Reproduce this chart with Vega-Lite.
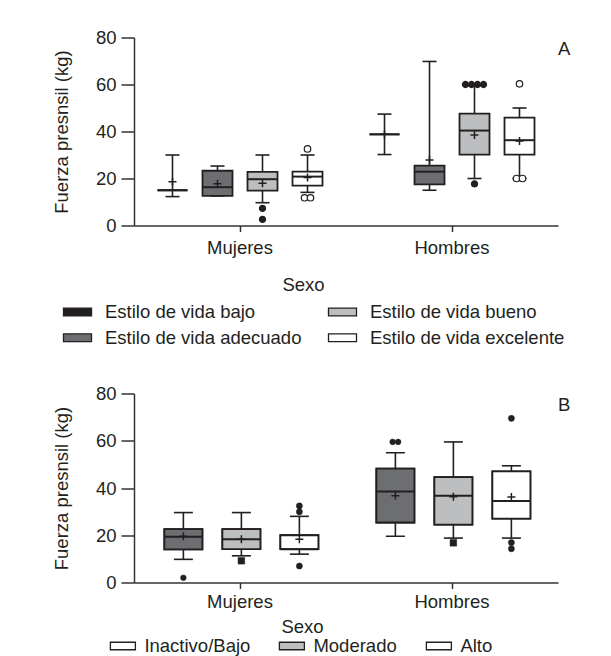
{
  "$schema": "https://vega.github.io/schema/vega-lite/v6.json",
  "padding": {"left": 52, "top": 28.5, "right": 0, "bottom": 0},
  "spacing": 36,
  "background": "#ffffff",
  "config": {
    "font": "Liberation Sans",
    "view": {"stroke": null},
    "axis": {
      "labelFont": "Liberation Sans", "titleFont": "Liberation Sans",
      "labelFontSize": 18.5, "titleFontSize": 18.5, "titleFontWeight": "normal",
      "labelColor": "#231f20", "titleColor": "#231f20",
      "domainColor": "#333333", "tickColor": "#333333", "domainWidth": 1.5, "tickWidth": 1.5,
      "grid": false
    },
    "legend": {
      "labelFont": "Liberation Sans", "labelFontSize": 18.5, "labelColor": "#231f20", "labelLimit": 400,
      "padding": 0, "symbolStrokeColor": "#231f20", "symbolStrokeWidth": 1.3
    }
  },
  "datasets": {
    "cajasA": [
      {"sexo": "Mujeres", "grupo": "Estilo de vida bajo", "min": 12.3, "q1": 15, "mediana": 15, "q3": 15, "max": 30, "media": 18.6},
      {"sexo": "Mujeres", "grupo": "Estilo de vida adecuado", "min": 12.6, "q1": 12.6, "mediana": 16.3, "q3": 23.3, "max": 25.3, "media": 17.8},
      {"sexo": "Mujeres", "grupo": "Estilo de vida bueno", "min": 9.7, "q1": 14.8, "mediana": 19.7, "q3": 22.8, "max": 30, "media": 18},
      {"sexo": "Mujeres", "grupo": "Estilo de vida excelente", "min": 14.1, "q1": 17, "mediana": 20.8, "q3": 22.9, "max": 30, "media": 20.4},
      {"sexo": "Hombres", "grupo": "Estilo de vida bajo", "min": 30.2, "q1": 38.8, "mediana": 38.8, "q3": 38.8, "max": 47.4, "media": 38.8},
      {"sexo": "Hombres", "grupo": "Estilo de vida adecuado", "min": 15, "q1": 17.5, "mediana": 22.9, "q3": 25.5, "max": 69.8, "media": 27.9},
      {"sexo": "Hombres", "grupo": "Estilo de vida bueno", "min": 20, "q1": 30.2, "mediana": 40.4, "q3": 47.6, "max": 60, "media": 38.5},
      {"sexo": "Hombres", "grupo": "Estilo de vida excelente", "min": 20, "q1": 30.2, "mediana": 36.3, "q3": 45.9, "max": 50, "media": 36}
    ],
    "atipicosA": [
      {"sexo": "Mujeres", "categoria": "Estilo de vida bueno", "fuerza": 7.3},
      {"sexo": "Mujeres", "categoria": "Estilo de vida bueno", "fuerza": 2.6},
      {"sexo": "Mujeres", "categoria": "Estilo de vida excelente", "fuerza": 32.6},
      {"sexo": "Mujeres", "categoria": "Estilo de vida excelente", "fuerza": 11.8, "caso": "excelente-1"},
      {"sexo": "Mujeres", "categoria": "Estilo de vida excelente", "fuerza": 11.8, "caso": "excelente-2"},
      {"sexo": "Hombres", "categoria": "Estilo de vida bueno", "fuerza": 60, "caso": "bueno-1"},
      {"sexo": "Hombres", "categoria": "Estilo de vida bueno", "fuerza": 60, "caso": "bueno-2"},
      {"sexo": "Hombres", "categoria": "Estilo de vida bueno", "fuerza": 60, "caso": "bueno-3"},
      {"sexo": "Hombres", "categoria": "Estilo de vida bueno", "fuerza": 60, "caso": "bueno-4"},
      {"sexo": "Hombres", "categoria": "Estilo de vida bueno", "fuerza": 17.7},
      {"sexo": "Hombres", "categoria": "Estilo de vida excelente", "fuerza": 60.3},
      {"sexo": "Hombres", "categoria": "Estilo de vida excelente", "fuerza": 20, "caso": "excelente-1"},
      {"sexo": "Hombres", "categoria": "Estilo de vida excelente", "fuerza": 20, "caso": "excelente-2"}
    ],
    "cajasB": [
      {"sexo": "Mujeres", "grupo": "Inactivo/Bajo", "min": 9.8, "q1": 14, "mediana": 19.4, "q3": 22.6, "max": 29.6, "media": 19.6},
      {"sexo": "Mujeres", "grupo": "Moderado", "min": 11.3, "q1": 14.1, "mediana": 18.3, "q3": 22.6, "max": 29.6, "media": 18.3},
      {"sexo": "Mujeres", "grupo": "Alto", "min": 12, "q1": 14.1, "mediana": 14.1, "q3": 20, "max": 28, "media": 18.3},
      {"sexo": "Hombres", "grupo": "Inactivo/Bajo", "min": 19.6, "q1": 25.4, "mediana": 38.5, "q3": 48.2, "max": 54.9, "media": 36.7},
      {"sexo": "Hombres", "grupo": "Moderado", "min": 18.8, "q1": 24.5, "mediana": 36.7, "q3": 44.6, "max": 59.5, "media": 36.3},
      {"sexo": "Hombres", "grupo": "Alto", "min": 18.8, "q1": 27, "mediana": 34.5, "q3": 47, "max": 49.4, "media": 36.2}
    ],
    "atipicosB": [
      {"sexo": "Mujeres", "categoria": "Inactivo/Bajo", "fuerza": 2},
      {"sexo": "Mujeres", "categoria": "Moderado", "fuerza": 9.2},
      {"sexo": "Mujeres", "categoria": "Alto", "fuerza": 32.4},
      {"sexo": "Mujeres", "categoria": "Alto", "fuerza": 29.9},
      {"sexo": "Mujeres", "categoria": "Alto", "fuerza": 7},
      {"sexo": "Hombres", "categoria": "Inactivo/Bajo", "fuerza": 59.5, "caso": "inactivo-1"},
      {"sexo": "Hombres", "categoria": "Inactivo/Bajo", "fuerza": 59.5, "caso": "inactivo-2"},
      {"sexo": "Hombres", "categoria": "Moderado", "fuerza": 16.8},
      {"sexo": "Hombres", "categoria": "Alto", "fuerza": 69.5},
      {"sexo": "Hombres", "categoria": "Alto", "fuerza": 16.9},
      {"sexo": "Hombres", "categoria": "Alto", "fuerza": 14.3}
    ],
    "etiquetaA": [{"panel": "A"}],
    "etiquetaB": [{"panel": "B"}]
  },
  "resolve": {
    "scale": {"x": "independent", "y": "independent", "xOffset": "independent", "fill": "independent", "color": "independent", "shape": "independent", "size": "independent"},
    "axis": {"x": "independent", "y": "independent"},
    "legend": {"fill": "independent", "color": "independent"}
  },
  "vconcat": [
    {
      "width": 424,
      "height": 188,
      "encoding": {
        "x": {"field": "sexo", "type": "nominal", "title": "Sexo",
          "scale": {"domain": ["Mujeres", "Hombres"], "paddingInner": 0, "paddingOuter": 0},
          "axis": {"labelAngle": 0, "tickSize": 6, "labelPadding": 6.5, "titlePadding": 19.3, "titleX": 169}}
      },
      "layer": [
        {
          "data": {"name": "cajasA"},
          "mark": {"type": "rule", "stroke": "#231f20", "strokeWidth": 1.6},
          "encoding": {
            "xOffset": {"field": "grupo", "type": "nominal", "scale": {"paddingInner": 0, "paddingOuter": 0.333, "domain": ["p0","p1","p2","p3","p4","a0","a1","a2","a3","a4","a5","a6","Estilo de vida bajo","a8","a9","a10","a11","a12","a13","a14","a15","a16","a17","a18","a19","a20","a21","Estilo de vida adecuado","a23","a24","a25","a26","a27","a28","a29","a30","a31","a32","a33","bueno-1","a35","bueno-2","Estilo de vida bueno","bueno-3","a39","bueno-4","a41","a42","a43","a44","a45","a46","a47","a48","a49","a50","excelente-1","Estilo de vida excelente","excelente-2","a54","a55","a56","a57","a58","a59","p5","p6","p7","p8","p9"]}},
            "y": {"field": "min", "type": "quantitative", "title": "Fuerza presnsil (kg)",
              "scale": {"domain": [0, 80], "nice": false},
              "axis": {"values": [0, 20, 40, 60, 80], "tickSize": 13, "labelPadding": 5, "titlePadding": 24}},
            "y2": {"field": "max"}
          }
        },
        {
          "data": {"name": "cajasA"},
          "mark": {"type": "tick", "size": 14, "thickness": 1.6, "color": "#231f20", "opacity": 1},
          "encoding": {
            "xOffset": {"field": "grupo", "type": "nominal", "scale": {"paddingInner": 0, "paddingOuter": 0.333, "domain": ["p0","p1","p2","p3","p4","a0","a1","a2","a3","a4","a5","a6","Estilo de vida bajo","a8","a9","a10","a11","a12","a13","a14","a15","a16","a17","a18","a19","a20","a21","Estilo de vida adecuado","a23","a24","a25","a26","a27","a28","a29","a30","a31","a32","a33","bueno-1","a35","bueno-2","Estilo de vida bueno","bueno-3","a39","bueno-4","a41","a42","a43","a44","a45","a46","a47","a48","a49","a50","excelente-1","Estilo de vida excelente","excelente-2","a54","a55","a56","a57","a58","a59","p5","p6","p7","p8","p9"]}},
            "y": {"field": "min", "type": "quantitative", "title": "Fuerza presnsil (kg)"}
          }
        },
        {
          "data": {"name": "cajasA"},
          "mark": {"type": "tick", "size": 14, "thickness": 1.6, "color": "#231f20", "opacity": 1},
          "encoding": {
            "xOffset": {"field": "grupo", "type": "nominal", "scale": {"paddingInner": 0, "paddingOuter": 0.333, "domain": ["p0","p1","p2","p3","p4","a0","a1","a2","a3","a4","a5","a6","Estilo de vida bajo","a8","a9","a10","a11","a12","a13","a14","a15","a16","a17","a18","a19","a20","a21","Estilo de vida adecuado","a23","a24","a25","a26","a27","a28","a29","a30","a31","a32","a33","bueno-1","a35","bueno-2","Estilo de vida bueno","bueno-3","a39","bueno-4","a41","a42","a43","a44","a45","a46","a47","a48","a49","a50","excelente-1","Estilo de vida excelente","excelente-2","a54","a55","a56","a57","a58","a59","p5","p6","p7","p8","p9"]}},
            "y": {"field": "max", "type": "quantitative", "title": "Fuerza presnsil (kg)"}
          }
        },
        {
          "data": {"name": "cajasA"},
          "mark": {"type": "bar", "width": 30, "stroke": "#231f20", "strokeWidth": 1.8, "opacity": 1},
          "encoding": {
            "xOffset": {"field": "grupo", "type": "nominal", "scale": {"paddingInner": 0, "paddingOuter": 0.333, "domain": ["p0","p1","p2","p3","p4","a0","a1","a2","a3","a4","a5","a6","Estilo de vida bajo","a8","a9","a10","a11","a12","a13","a14","a15","a16","a17","a18","a19","a20","a21","Estilo de vida adecuado","a23","a24","a25","a26","a27","a28","a29","a30","a31","a32","a33","bueno-1","a35","bueno-2","Estilo de vida bueno","bueno-3","a39","bueno-4","a41","a42","a43","a44","a45","a46","a47","a48","a49","a50","excelente-1","Estilo de vida excelente","excelente-2","a54","a55","a56","a57","a58","a59","p5","p6","p7","p8","p9"]}},
            "y": {"field": "q1", "type": "quantitative", "title": "Fuerza presnsil (kg)"},
            "y2": {"field": "q3"},
            "fill": {"field": "grupo", "type": "nominal",
              "scale": {"domain": ["Estilo de vida bajo", "Estilo de vida adecuado", "Estilo de vida bueno", "Estilo de vida excelente"], "range": ["#231f20", "#6d6e71", "#bcbec0", "#ffffff"]},
              "legend": {"title": null, "orient": "none", "legendX": -71.5, "legendY": 259.3, "columns": 2, "columnPadding": 24, "rowPadding": 1,
                "symbolType": "M-1,-0.28H1V0.28H-1Z", "symbolSize": 784, "labelOffset": 12.5}}
          }
        },
        {
          "data": {"name": "cajasA"},
          "mark": {"type": "tick", "size": 30, "thickness": 2, "color": "#231f20", "opacity": 1},
          "encoding": {
            "xOffset": {"field": "grupo", "type": "nominal", "scale": {"paddingInner": 0, "paddingOuter": 0.333, "domain": ["p0","p1","p2","p3","p4","a0","a1","a2","a3","a4","a5","a6","Estilo de vida bajo","a8","a9","a10","a11","a12","a13","a14","a15","a16","a17","a18","a19","a20","a21","Estilo de vida adecuado","a23","a24","a25","a26","a27","a28","a29","a30","a31","a32","a33","bueno-1","a35","bueno-2","Estilo de vida bueno","bueno-3","a39","bueno-4","a41","a42","a43","a44","a45","a46","a47","a48","a49","a50","excelente-1","Estilo de vida excelente","excelente-2","a54","a55","a56","a57","a58","a59","p5","p6","p7","p8","p9"]}},
            "y": {"field": "mediana", "type": "quantitative", "title": "Fuerza presnsil (kg)"}
          }
        },
        {
          "data": {"name": "cajasA"},
          "mark": {"type": "point", "shape": "M-1,0H1M0,-1V1", "size": 64, "filled": false, "stroke": "#231f20", "strokeWidth": 1.5, "opacity": 1},
          "encoding": {
            "xOffset": {"field": "grupo", "type": "nominal", "scale": {"paddingInner": 0, "paddingOuter": 0.333, "domain": ["p0","p1","p2","p3","p4","a0","a1","a2","a3","a4","a5","a6","Estilo de vida bajo","a8","a9","a10","a11","a12","a13","a14","a15","a16","a17","a18","a19","a20","a21","Estilo de vida adecuado","a23","a24","a25","a26","a27","a28","a29","a30","a31","a32","a33","bueno-1","a35","bueno-2","Estilo de vida bueno","bueno-3","a39","bueno-4","a41","a42","a43","a44","a45","a46","a47","a48","a49","a50","excelente-1","Estilo de vida excelente","excelente-2","a54","a55","a56","a57","a58","a59","p5","p6","p7","p8","p9"]}},
            "y": {"field": "media", "type": "quantitative", "title": "Fuerza presnsil (kg)"}
          }
        },
        {
          "data": {"name": "atipicosA"},
          "transform": [{"filter": "!isValid(datum.caso)"}],
          "mark": {"type": "point", "shape": "circle", "filled": true, "stroke": "#231f20", "strokeWidth": 1.2, "opacity": 1},
          "encoding": {
            "xOffset": {"field": "categoria", "type": "nominal", "scale": {"paddingInner": 0, "paddingOuter": 0.333, "domain": ["p0","p1","p2","p3","p4","a0","a1","a2","a3","a4","a5","a6","Estilo de vida bajo","a8","a9","a10","a11","a12","a13","a14","a15","a16","a17","a18","a19","a20","a21","Estilo de vida adecuado","a23","a24","a25","a26","a27","a28","a29","a30","a31","a32","a33","bueno-1","a35","bueno-2","Estilo de vida bueno","bueno-3","a39","bueno-4","a41","a42","a43","a44","a45","a46","a47","a48","a49","a50","excelente-1","Estilo de vida excelente","excelente-2","a54","a55","a56","a57","a58","a59","p5","p6","p7","p8","p9"]}},
            "y": {"field": "fuerza", "type": "quantitative", "title": "Fuerza presnsil (kg)"},
            "color": {"field": "categoria", "type": "nominal", "scale": {"domain": ["Estilo de vida excelente", "Estilo de vida bueno", "Estilo de vida adecuado", "Estilo de vida bajo"], "range": ["#ffffff", "#231f20", "#231f20", "#231f20"]}, "legend": null},
            "size": {"field": "categoria", "type": "nominal", "scale": {"domain": ["Estilo de vida excelente", "Estilo de vida bueno", "Estilo de vida adecuado", "Estilo de vida bajo"], "range": [42, 28, 28, 28]}, "legend": null}
          }
        },
        {
          "data": {"name": "atipicosA"},
          "transform": [{"filter": "isValid(datum.caso)"}],
          "mark": {"type": "point", "shape": "circle", "filled": true, "stroke": "#231f20", "strokeWidth": 1.2, "opacity": 1},
          "encoding": {
            "xOffset": {"field": "caso", "type": "nominal", "scale": {"paddingInner": 0, "paddingOuter": 0.333, "domain": ["p0","p1","p2","p3","p4","a0","a1","a2","a3","a4","a5","a6","Estilo de vida bajo","a8","a9","a10","a11","a12","a13","a14","a15","a16","a17","a18","a19","a20","a21","Estilo de vida adecuado","a23","a24","a25","a26","a27","a28","a29","a30","a31","a32","a33","bueno-1","a35","bueno-2","Estilo de vida bueno","bueno-3","a39","bueno-4","a41","a42","a43","a44","a45","a46","a47","a48","a49","a50","excelente-1","Estilo de vida excelente","excelente-2","a54","a55","a56","a57","a58","a59","p5","p6","p7","p8","p9"]}},
            "y": {"field": "fuerza", "type": "quantitative", "title": "Fuerza presnsil (kg)"},
            "color": {"field": "categoria", "type": "nominal", "scale": {"domain": ["Estilo de vida excelente", "Estilo de vida bueno", "Estilo de vida adecuado", "Estilo de vida bajo"], "range": ["#ffffff", "#231f20", "#231f20", "#231f20"]}, "legend": null},
            "size": {"field": "categoria", "type": "nominal", "scale": {"domain": ["Estilo de vida excelente", "Estilo de vida bueno", "Estilo de vida adecuado", "Estilo de vida bajo"], "range": [42, 28, 28, 28]}, "legend": null}
          }
        },
        {
          "data": {"name": "etiquetaA"},
          "mark": {"type": "text", "align": "left", "baseline": "middle", "fontSize": 18.5, "color": "#231f20"},
          "encoding": {
            "x": {"datum": "Hombres", "type": "nominal", "bandPosition": 1},
            "y": {"datum": 75, "type": "quantitative"},
            "text": {"field": "panel"}
          }
        }
      ]
    },
    {
      "width": 424,
      "height": 189,
      "encoding": {
        "x": {"field": "sexo", "type": "nominal", "title": "Sexo",
          "scale": {"domain": ["Mujeres", "Hombres"], "paddingInner": 0, "paddingOuter": 0},
          "axis": {"labelAngle": 0, "tickSize": 6, "labelPadding": 4.3, "titlePadding": 6, "titleX": 168}}
      },
      "layer": [
        {
          "data": {"name": "cajasB"},
          "mark": {"type": "rule", "stroke": "#231f20", "strokeWidth": 1.6},
          "encoding": {
            "xOffset": {"field": "grupo", "type": "nominal", "scale": {"paddingInner": 0, "paddingOuter": 0.38, "domain": ["q0","q1","q2","q3","q4","q5","q6","b0","b1","b2","b3","b4","b5","b6","b7","b8","inactivo-1","Inactivo/Bajo","inactivo-2","b12","b13","b14","b15","b16","b17","b18","b19","b20","b21","b22","b23","b24","b25","b26","b27","b28","b29","b30","Moderado","b32","b33","b34","b35","b36","b37","b38","b39","b40","b41","b42","b43","b44","b45","b46","b47","b48","b49","b50","b51","Alto","b53","b54","b55","b56","b57","b58","b59","b60","b61","b62","q7","q8","q9","q10","q11","q12"]}},
            "y": {"field": "min", "type": "quantitative", "title": "Fuerza presnsil (kg)",
              "scale": {"domain": [0, 80], "nice": false},
              "axis": {"values": [0, 20, 40, 60, 80], "tickSize": 13, "labelPadding": 5, "titlePadding": 24}},
            "y2": {"field": "max"}
          }
        },
        {
          "data": {"name": "cajasB"},
          "mark": {"type": "tick", "size": 19, "thickness": 1.6, "color": "#231f20", "opacity": 1},
          "encoding": {
            "xOffset": {"field": "grupo", "type": "nominal", "scale": {"paddingInner": 0, "paddingOuter": 0.38, "domain": ["q0","q1","q2","q3","q4","q5","q6","b0","b1","b2","b3","b4","b5","b6","b7","b8","inactivo-1","Inactivo/Bajo","inactivo-2","b12","b13","b14","b15","b16","b17","b18","b19","b20","b21","b22","b23","b24","b25","b26","b27","b28","b29","b30","Moderado","b32","b33","b34","b35","b36","b37","b38","b39","b40","b41","b42","b43","b44","b45","b46","b47","b48","b49","b50","b51","Alto","b53","b54","b55","b56","b57","b58","b59","b60","b61","b62","q7","q8","q9","q10","q11","q12"]}},
            "y": {"field": "min", "type": "quantitative", "title": "Fuerza presnsil (kg)"}
          }
        },
        {
          "data": {"name": "cajasB"},
          "mark": {"type": "tick", "size": 19, "thickness": 1.6, "color": "#231f20", "opacity": 1},
          "encoding": {
            "xOffset": {"field": "grupo", "type": "nominal", "scale": {"paddingInner": 0, "paddingOuter": 0.38, "domain": ["q0","q1","q2","q3","q4","q5","q6","b0","b1","b2","b3","b4","b5","b6","b7","b8","inactivo-1","Inactivo/Bajo","inactivo-2","b12","b13","b14","b15","b16","b17","b18","b19","b20","b21","b22","b23","b24","b25","b26","b27","b28","b29","b30","Moderado","b32","b33","b34","b35","b36","b37","b38","b39","b40","b41","b42","b43","b44","b45","b46","b47","b48","b49","b50","b51","Alto","b53","b54","b55","b56","b57","b58","b59","b60","b61","b62","q7","q8","q9","q10","q11","q12"]}},
            "y": {"field": "max", "type": "quantitative", "title": "Fuerza presnsil (kg)"}
          }
        },
        {
          "data": {"name": "cajasB"},
          "mark": {"type": "bar", "width": 38, "stroke": "#231f20", "strokeWidth": 1.8, "opacity": 1},
          "encoding": {
            "xOffset": {"field": "grupo", "type": "nominal", "scale": {"paddingInner": 0, "paddingOuter": 0.38, "domain": ["q0","q1","q2","q3","q4","q5","q6","b0","b1","b2","b3","b4","b5","b6","b7","b8","inactivo-1","Inactivo/Bajo","inactivo-2","b12","b13","b14","b15","b16","b17","b18","b19","b20","b21","b22","b23","b24","b25","b26","b27","b28","b29","b30","Moderado","b32","b33","b34","b35","b36","b37","b38","b39","b40","b41","b42","b43","b44","b45","b46","b47","b48","b49","b50","b51","Alto","b53","b54","b55","b56","b57","b58","b59","b60","b61","b62","q7","q8","q9","q10","q11","q12"]}},
            "y": {"field": "q1", "type": "quantitative", "title": "Fuerza presnsil (kg)"},
            "y2": {"field": "q3"},
            "color": {"field": "grupo", "type": "nominal",
              "scale": {"domain": ["Inactivo/Bajo", "Moderado", "Alto"], "range": ["#ffffff", "#bcbec0", "#ffffff"]},
              "legend": {"title": null, "orient": "none", "legendX": -24.6, "legendY": 239, "columns": 3, "columnPadding": 26,
                "symbolType": "M-1,-0.3H1V0.3H-1Z", "symbolSize": 625, "labelOffset": 8}}
          }
        },
        {
          "data": {"name": "cajasB"},
          "mark": {"type": "bar", "width": 38, "stroke": "#231f20", "strokeWidth": 1.8, "opacity": 1},
          "encoding": {
            "xOffset": {"field": "grupo", "type": "nominal", "scale": {"paddingInner": 0, "paddingOuter": 0.38, "domain": ["q0","q1","q2","q3","q4","q5","q6","b0","b1","b2","b3","b4","b5","b6","b7","b8","inactivo-1","Inactivo/Bajo","inactivo-2","b12","b13","b14","b15","b16","b17","b18","b19","b20","b21","b22","b23","b24","b25","b26","b27","b28","b29","b30","Moderado","b32","b33","b34","b35","b36","b37","b38","b39","b40","b41","b42","b43","b44","b45","b46","b47","b48","b49","b50","b51","Alto","b53","b54","b55","b56","b57","b58","b59","b60","b61","b62","q7","q8","q9","q10","q11","q12"]}},
            "y": {"field": "q1", "type": "quantitative", "title": "Fuerza presnsil (kg)"},
            "y2": {"field": "q3"},
            "fill": {"field": "grupo", "type": "nominal",
              "scale": {"domain": ["Alto", "Moderado", "Inactivo/Bajo"], "range": ["#ffffff", "#bcbec0", "#6d6e71"]},
              "legend": null}
          }
        },
        {
          "data": {"name": "cajasB"},
          "mark": {"type": "tick", "size": 38, "thickness": 2, "color": "#231f20", "opacity": 1},
          "encoding": {
            "xOffset": {"field": "grupo", "type": "nominal", "scale": {"paddingInner": 0, "paddingOuter": 0.38, "domain": ["q0","q1","q2","q3","q4","q5","q6","b0","b1","b2","b3","b4","b5","b6","b7","b8","inactivo-1","Inactivo/Bajo","inactivo-2","b12","b13","b14","b15","b16","b17","b18","b19","b20","b21","b22","b23","b24","b25","b26","b27","b28","b29","b30","Moderado","b32","b33","b34","b35","b36","b37","b38","b39","b40","b41","b42","b43","b44","b45","b46","b47","b48","b49","b50","b51","Alto","b53","b54","b55","b56","b57","b58","b59","b60","b61","b62","q7","q8","q9","q10","q11","q12"]}},
            "y": {"field": "mediana", "type": "quantitative", "title": "Fuerza presnsil (kg)"}
          }
        },
        {
          "data": {"name": "cajasB"},
          "mark": {"type": "point", "shape": "M-1,0H1M0,-1V1", "size": 64, "filled": false, "stroke": "#231f20", "strokeWidth": 1.5, "opacity": 1},
          "encoding": {
            "xOffset": {"field": "grupo", "type": "nominal", "scale": {"paddingInner": 0, "paddingOuter": 0.38, "domain": ["q0","q1","q2","q3","q4","q5","q6","b0","b1","b2","b3","b4","b5","b6","b7","b8","inactivo-1","Inactivo/Bajo","inactivo-2","b12","b13","b14","b15","b16","b17","b18","b19","b20","b21","b22","b23","b24","b25","b26","b27","b28","b29","b30","Moderado","b32","b33","b34","b35","b36","b37","b38","b39","b40","b41","b42","b43","b44","b45","b46","b47","b48","b49","b50","b51","Alto","b53","b54","b55","b56","b57","b58","b59","b60","b61","b62","q7","q8","q9","q10","q11","q12"]}},
            "y": {"field": "media", "type": "quantitative", "title": "Fuerza presnsil (kg)"}
          }
        },
        {
          "data": {"name": "atipicosB"},
          "transform": [{"filter": "!isValid(datum.caso)"}],
          "mark": {"type": "point", "filled": true, "fill": "#231f20", "stroke": "#231f20", "strokeWidth": 0.5, "opacity": 1},
          "encoding": {
            "xOffset": {"field": "categoria", "type": "nominal", "scale": {"paddingInner": 0, "paddingOuter": 0.38, "domain": ["q0","q1","q2","q3","q4","q5","q6","b0","b1","b2","b3","b4","b5","b6","b7","b8","inactivo-1","Inactivo/Bajo","inactivo-2","b12","b13","b14","b15","b16","b17","b18","b19","b20","b21","b22","b23","b24","b25","b26","b27","b28","b29","b30","Moderado","b32","b33","b34","b35","b36","b37","b38","b39","b40","b41","b42","b43","b44","b45","b46","b47","b48","b49","b50","b51","Alto","b53","b54","b55","b56","b57","b58","b59","b60","b61","b62","q7","q8","q9","q10","q11","q12"]}},
            "y": {"field": "fuerza", "type": "quantitative", "title": "Fuerza presnsil (kg)"},
            "shape": {"field": "categoria", "type": "nominal", "scale": {"domain": ["Moderado", "Alto", "Inactivo/Bajo"], "range": ["square", "circle", "circle"]}, "legend": null},
            "size": {"field": "categoria", "type": "nominal", "scale": {"domain": ["Moderado", "Alto", "Inactivo/Bajo"], "range": [44, 32, 32]}, "legend": null}
          }
        },
        {
          "data": {"name": "atipicosB"},
          "transform": [{"filter": "isValid(datum.caso)"}],
          "mark": {"type": "point", "filled": true, "fill": "#231f20", "stroke": "#231f20", "strokeWidth": 0.5, "opacity": 1},
          "encoding": {
            "xOffset": {"field": "caso", "type": "nominal", "scale": {"paddingInner": 0, "paddingOuter": 0.38, "domain": ["q0","q1","q2","q3","q4","q5","q6","b0","b1","b2","b3","b4","b5","b6","b7","b8","inactivo-1","Inactivo/Bajo","inactivo-2","b12","b13","b14","b15","b16","b17","b18","b19","b20","b21","b22","b23","b24","b25","b26","b27","b28","b29","b30","Moderado","b32","b33","b34","b35","b36","b37","b38","b39","b40","b41","b42","b43","b44","b45","b46","b47","b48","b49","b50","b51","Alto","b53","b54","b55","b56","b57","b58","b59","b60","b61","b62","q7","q8","q9","q10","q11","q12"]}},
            "y": {"field": "fuerza", "type": "quantitative", "title": "Fuerza presnsil (kg)"},
            "shape": {"field": "categoria", "type": "nominal", "scale": {"domain": ["Moderado", "Alto", "Inactivo/Bajo"], "range": ["square", "circle", "circle"]}, "legend": null},
            "size": {"field": "categoria", "type": "nominal", "scale": {"domain": ["Moderado", "Alto", "Inactivo/Bajo"], "range": [44, 32, 32]}, "legend": null}
          }
        },
        {
          "data": {"name": "etiquetaB"},
          "mark": {"type": "text", "align": "left", "baseline": "middle", "fontSize": 18.5, "color": "#231f20"},
          "encoding": {
            "x": {"datum": "Hombres", "type": "nominal", "bandPosition": 1},
            "y": {"datum": 75, "type": "quantitative"},
            "text": {"field": "panel"}
          }
        }
      ]
    }
  ]
}
